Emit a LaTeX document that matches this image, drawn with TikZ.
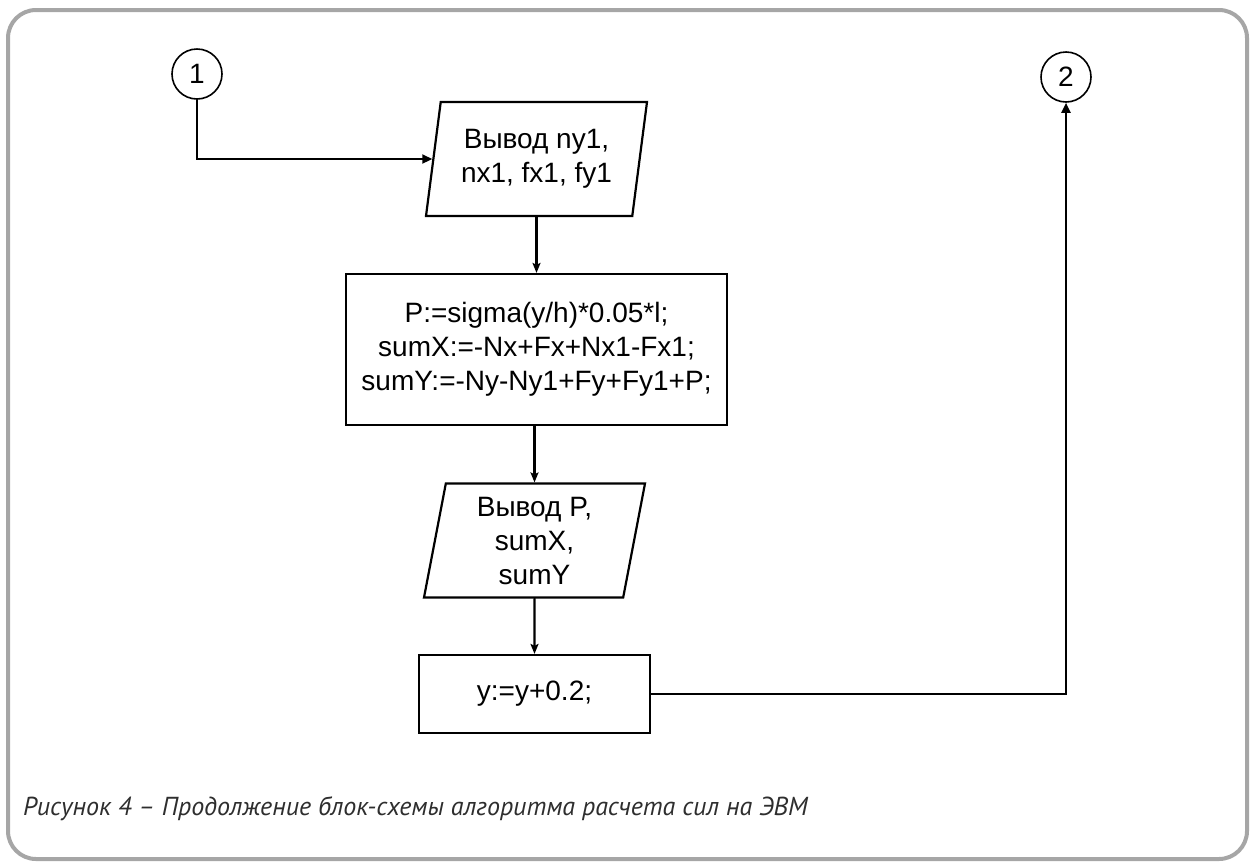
\documentclass[tikz,border=0pt]{standalone}
\usepackage{fontspec}
\setmainfont{Liberation Sans}
\newfontfamily\capfont{PT Sans}
\usetikzlibrary{shapes.geometric,arrows.meta}
\newcommand\blockfont{\fontsize{14}{17}\selectfont}

\begin{document}
\begin{tikzpicture}[x=0.5pt,y=-0.5pt,line cap=round,
% Styles
block/.style={draw,line width=1.1pt,font=\blockfont,align=center,inner sep=0pt},
io/.style={block,trapezium,trapezium left angle=76,trapezium right angle=104,
  trapezium stretches body,minimum width=110.5pt,minimum height=57pt},
proc/.style={block,rectangle},
connector/.style={draw,circle,line width=0.8pt,minimum size=25pt,inner sep=0pt,font=\blockfont},
flow/.style={line width=1.1pt,-{Stealth[length=5pt,width=4pt,inset=1pt]}},
flow in/.style={line width=1.1pt,-{Triangle[length=5pt,width=4.5pt]}}]
% Colors
\colorlet{framecolor}{black!35}
\colorlet{captioncolor}{black!82}
\useasboundingbox (0,0) rectangle (1253,863);
% Frame
\draw[framecolor,line width=2pt,rounded corners=14pt] (8,10) rectangle (1247,859);
% Blocks
\node[connector] (c1) at (197,74) {1};
\node[connector] (c2) at (1066,77) {2};
\node[io] (out1) at (536.5,159) {Вывод ny1,\\nx1, fx1, fy1};
\node[proc,minimum width=190.5pt,minimum height=75.5pt] (calc) at (536.5,349.5)
  {P:=sigma(y/h)*0.05*l;\\sumX:=-Nx+Fx+Nx1-Fx1;\\sumY:=-Ny-Ny1+Fy+Fy1+P;};
\node[io] (out2) at (534.5,540.5) {Вывод P,\\sumX,\\sumY};
\node[proc,minimum width=115.5pt,minimum height=39pt] (incr) at (534.5,694) {y:=y+0.2;};
% Connectors
\draw[flow in] (c1.south) |- (out1.west);
\draw[flow] (out1.south -| calc.north) -- (calc.north);
\draw[flow] (calc.south -| out2.north) -- (out2.north);
\draw[flow] (out2.south) -- (incr.north);
\draw[flow in] (incr.east) -| (c2.south);
% Caption
\node[anchor=west,text=captioncolor,font=\capfont\itshape\fontsize{13}{15}\selectfont] (caption) at (16,809)
  {Рисунок 4 – Продолжение блок-схемы алгоритма расчета сил на ЭВМ};
\end{tikzpicture}
\end{document}
